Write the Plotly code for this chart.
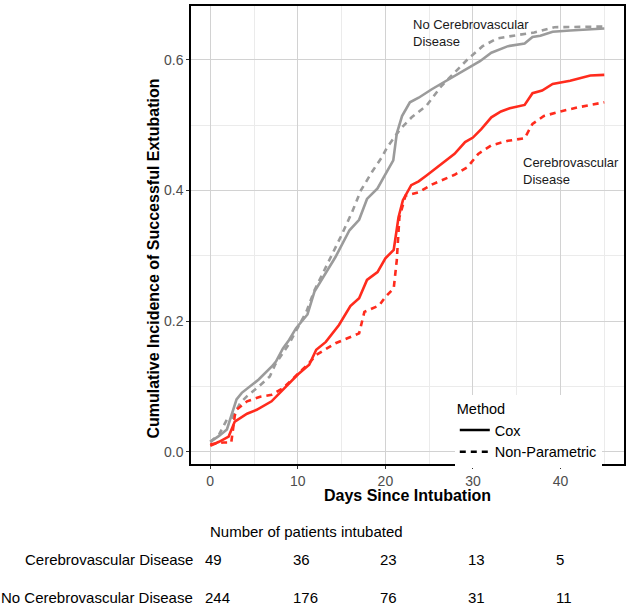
import plotly.graph_objects as go

# ---------------- data ----------------
no_cvd_cox_days = [0, 1.0, 1.9, 2.6, 3.0, 3.6, 4.7, 5.5, 7.0, 7.5, 8.3, 9.0, 9.8, 11.1, 11.9, 13.0,
                   14.3, 15.9, 17.0, 17.9, 19.1, 19.8, 20.9, 21.3, 21.9, 22.8, 23.8, 25.3, 27.6, 29.1,
                   30.8, 32.1, 34.0, 35.9, 36.8, 37.7, 39.1, 41.1, 45.0]
no_cvd_cox_vals = [0.015, 0.024, 0.034, 0.062, 0.080, 0.090, 0.102, 0.110, 0.130, 0.138, 0.158, 0.171,
                   0.189, 0.210, 0.245, 0.270, 0.298, 0.339, 0.355, 0.387, 0.403, 0.420, 0.446, 0.487,
                   0.514, 0.535, 0.542, 0.555, 0.573, 0.586, 0.598, 0.611, 0.621, 0.625, 0.635, 0.637,
                   0.643, 0.645, 0.648]

no_cvd_np_days = [0, 1.0, 1.9, 2.5, 3.4, 4.2, 5.3, 6.8, 7.4, 9.0, 10.0, 11.0, 11.9, 13.6, 14.9, 16.2,
                  17.2, 18.5, 19.6, 20.2, 21.7, 23.0, 24.7, 26.4, 27.9, 29.4, 31.1, 32.8, 35.1, 37.0,
                  39.3, 45.0]
no_cvd_np_vals = [0.015, 0.026, 0.049, 0.052, 0.074, 0.085, 0.097, 0.115, 0.133, 0.165, 0.190, 0.215,
                  0.247, 0.293, 0.329, 0.367, 0.400, 0.429, 0.451, 0.466, 0.494, 0.512, 0.530, 0.560,
                  0.580, 0.601, 0.621, 0.633, 0.638, 0.642, 0.650, 0.651]

cvd_cox_days = [0, 1.0, 2.1, 2.8, 4.2, 5.3, 7.0, 8.3, 10.0, 11.3, 12.1, 13.2, 14.7, 16.0, 17.0, 17.9,
                19.1, 20.0, 20.95, 21.5, 22.0, 22.95, 23.8, 24.7, 26.4, 27.9, 29.1, 30.0, 30.95, 32.1,
                33.2, 34.2, 35.9, 36.8, 37.9, 39.1, 41.1, 43.4, 45.0]
cvd_cox_vals = [0.009, 0.015, 0.023, 0.046, 0.058, 0.064, 0.077, 0.095, 0.118, 0.133, 0.156, 0.168,
                0.194, 0.223, 0.235, 0.263, 0.275, 0.296, 0.309, 0.359, 0.385, 0.408, 0.414, 0.423,
                0.440, 0.456, 0.474, 0.481, 0.494, 0.512, 0.521, 0.526, 0.531, 0.549, 0.553, 0.563,
                0.568, 0.576, 0.577]

cvd_np_days = [0, 1.5, 2.4, 2.8, 3.0, 4.2, 5.7, 7.0, 8.3, 10.0, 11.1, 12.1, 14.3, 17.0, 17.6, 19.3,
               20.0, 20.95, 21.3, 21.6, 22.3, 23.8, 25.3, 27.9, 29.4, 30.6, 32.1, 34.0, 35.9, 36.8,
               38.1, 40.0, 41.9, 45.0]
cvd_np_vals = [0.011, 0.014, 0.014, 0.055, 0.064, 0.077, 0.084, 0.087, 0.097, 0.118, 0.133, 0.148,
               0.166, 0.181, 0.214, 0.224, 0.237, 0.250, 0.293, 0.359, 0.392, 0.397, 0.409, 0.424,
               0.436, 0.456, 0.469, 0.476, 0.480, 0.502, 0.514, 0.521, 0.527, 0.535]

table_days = [0, 10, 20, 30, 40]
table_rows = ["Cerebrovascular Disease", "No Cerebrovascular Disease"]
at_risk_cvd = [49, 36, 23, 13, 5]
at_risk_no_cvd = [244, 176, 76, 31, 11]

x_ticks = [0, 10, 20, 30, 40]
y_ticks = [0.0, 0.2, 0.4, 0.6]

# ---------------- styles ----------------
GRAY = "#9b9b9b"
RED = "#ff2b1d"
FONT = "Liberation Sans, Arial, sans-serif"
LW = 2.6
DASH = "6px,5px"

fig = go.Figure()
fig.add_trace(go.Scatter(x=no_cvd_np_days, y=no_cvd_np_vals, mode="lines",
                         line=dict(color=GRAY, width=LW, dash=DASH), showlegend=False, hoverinfo="skip"))
fig.add_trace(go.Scatter(x=no_cvd_cox_days, y=no_cvd_cox_vals, mode="lines",
                         line=dict(color=GRAY, width=LW), showlegend=False, hoverinfo="skip"))
fig.add_trace(go.Scatter(x=cvd_np_days, y=cvd_np_vals, mode="lines",
                         line=dict(color=RED, width=LW, dash=DASH), showlegend=False, hoverinfo="skip"))
fig.add_trace(go.Scatter(x=cvd_cox_days, y=cvd_cox_vals, mode="lines",
                         line=dict(color=RED, width=LW), showlegend=False, hoverinfo="skip"))

# legend entries
fig.add_trace(go.Scatter(x=[None], y=[None], mode="lines", name="Cox",
                         line=dict(color="black", width=2.6)))
fig.add_trace(go.Scatter(x=[None], y=[None], mode="lines", name="Non-Parametric",
                         line=dict(color="black", width=2.6, dash=DASH)))

axis_common = dict(
    showline=True, mirror=True, linecolor="black", linewidth=1.5, layer="above traces",
    ticks="outside", ticklen=3, tickcolor="#333333", tickwidth=1,
    showgrid=True, gridcolor="#d2d2d2", gridwidth=1.2,
    zeroline=False,
    tickfont=dict(family=FONT, size=14, color="#4d4d4d"),
)

fig.update_xaxes(range=[-2.2, 47.25], tickvals=x_ticks, ticktext=[str(v) for v in x_ticks],
                 minor=dict(dtick=5, tick0=0, showgrid=True, gridcolor="#ebebeb", gridwidth=0.8, ticks=""),
                 **axis_common)
fig.update_yaxes(range=[-0.019, 0.6825], tickvals=y_ticks, ticktext=[f"{v:.1f}" for v in y_ticks],
                 minor=dict(dtick=0.1, tick0=0, showgrid=True, gridcolor="#ebebeb", gridwidth=0.8, ticks=""),
                 **axis_common)

L, R, T, B = 191, 4, 5, 143
W, H = 630, 607
PW, PH = W - L - R, H - T - B


def px_x(px):
    return (px - L) / PW


def px_y(py):
    return (H - B - py) / PH


annotations = []
# axis titles
annotations.append(dict(text="<b>Days Since Intubation</b>", xref="paper", yref="paper",
                        x=0.5, y=px_y(496), xanchor="center", yanchor="middle", showarrow=False,
                        font=dict(family=FONT, size=16, color="black")))
annotations.append(dict(text="<b>Cumulative Incidence of Successful Extubation</b>", xref="paper",
                        yref="paper", x=px_x(153.5), y=px_y(258.5), xanchor="center", yanchor="middle",
                        textangle=-90, showarrow=False, font=dict(family=FONT, size=16, color="black")))
# curve labels
annotations.append(dict(text="No Cerebrovascular<br>Disease", xref="x", yref="y", x=22.9, y=0.669,
                        xanchor="left", yanchor="top", align="left", showarrow=False,
                        font=dict(family=FONT, size=13, color="#1a1a1a")))
annotations.append(dict(text="Cerebrovascular<br>Disease", xref="x", yref="y", x=35.45, y=0.458,
                        xanchor="left", yanchor="top", align="left", showarrow=False,
                        font=dict(family=FONT, size=13, color="#1a1a1a")))
# at-risk table
annotations.append(dict(text="Number of patients intubated", xref="paper", yref="paper",
                        x=px_x(208), y=px_y(532), xanchor="left", yanchor="middle", showarrow=False,
                        font=dict(family=FONT, size=15, color="black")))
for label, vals, py in [(table_rows[0], at_risk_cvd, 560), (table_rows[1], at_risk_no_cvd, 598)]:
    annotations.append(dict(text=label, xref="paper", yref="paper", x=px_x(195), y=px_y(py),
                            xanchor="right", yanchor="middle", showarrow=False,
                            font=dict(family=FONT, size=15, color="black")))
    for d, v in zip(table_days, vals):
        annotations.append(dict(text=str(v), xref="x", yref="paper", x=d, y=px_y(py), xshift=-7,
                                xanchor="left", yanchor="middle", showarrow=False,
                                font=dict(family=FONT, size=15, color="black")))

fig.update_layout(
    width=W, height=H,
    margin=dict(l=L, r=R, t=T, b=B),
    paper_bgcolor="white", plot_bgcolor="white",
    font=dict(family=FONT, color="black"),
    annotations=annotations,
    legend=dict(title=dict(text="Method", font=dict(family=FONT, size=14.5, color="black")),
                font=dict(family=FONT, size=14.5, color="black"),
                x=px_x(456), y=px_y(395), xanchor="left", yanchor="top",
                bgcolor="white", borderwidth=0, tracegroupgap=0, itemwidth=30),
    showlegend=True,
)

fig.write_html("out.html",
               config={"displayModeBar": False},
               post_script="document.body.style.margin='0';document.body.style.padding='0';"
                           "document.body.style.overflow='hidden';")
